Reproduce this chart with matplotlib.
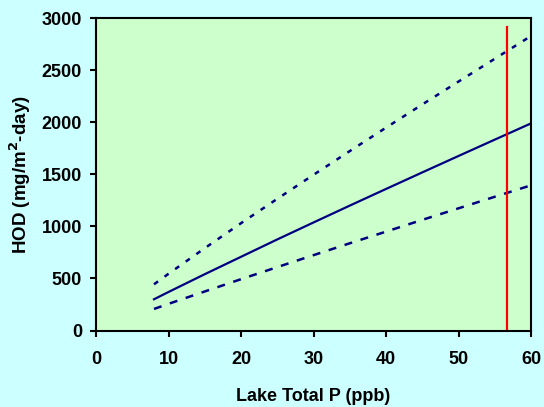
import numpy as np
import matplotlib.pyplot as plt

plt.rcParams['font.family'] = ['Liberation Sans', 'DejaVu Sans']
plt.rcParams['font.weight'] = 'bold'

# lake total P (ppb) and hypolimnetic oxygen demand with bounds
tp = [8, 10, 15, 20, 25, 30, 35, 40, 45, 50, 55, 60]
hod = [300, 370, 541, 708, 875, 1038, 1200, 1360, 1519, 1677, 1834, 1990]
hod_upper = [444, 545, 791, 1031, 1265, 1496, 1724, 1949, 2172, 2392, 2611, 2830]
hod_lower = [207, 256, 375, 493, 609, 724, 838, 950, 1063, 1174, 1285, 1395]

lake_tp = 56.7
lake_top = 2920

xticks = [0, 10, 20, 30, 40, 50, 60]
yticks = [0, 500, 1000, 1500, 2000, 2500, 3000]

fig = plt.figure(figsize=(5.44, 4.07), dpi=100, facecolor='#CCFFFF')
ax = fig.add_axes([96 / 544, 1 - 330.5 / 407, 435 / 544, 312.2 / 407])
ax.set_facecolor('#CCFFCC')

navy = '#000080'
ax.plot(tp, hod, color=navy, lw=1.6)
ax.plot(tp, hod_upper, color=navy, lw=1.8, dashes=(2.0, 3.2))
ax.plot(tp, hod_lower, color=navy, lw=1.8, dashes=(3.2, 3.5))
ax.plot([lake_tp, lake_tp], [0, lake_top], color='#FF0000', lw=1.6)

ax.set_xlim(0, 60)
ax.set_ylim(0, 3000)
ax.set_xticks(xticks)
ax.set_yticks(yticks)
ax.tick_params(direction='out', length=4, width=1.5, labelsize=13, pad=6)
ax.tick_params(axis='x', pad=11)
for s in ax.spines.values():
    s.set_linewidth(1.5)

ax.set_xlabel('Lake Total P (ppb)', fontsize=13, fontweight='bold', labelpad=14)
ax.set_ylabel('HOD (mg/m$^\\mathbf{2}$-day)', fontsize=13.5, fontweight='bold', labelpad=6)

fig.savefig('out.png', dpi=100, facecolor=fig.get_facecolor())
